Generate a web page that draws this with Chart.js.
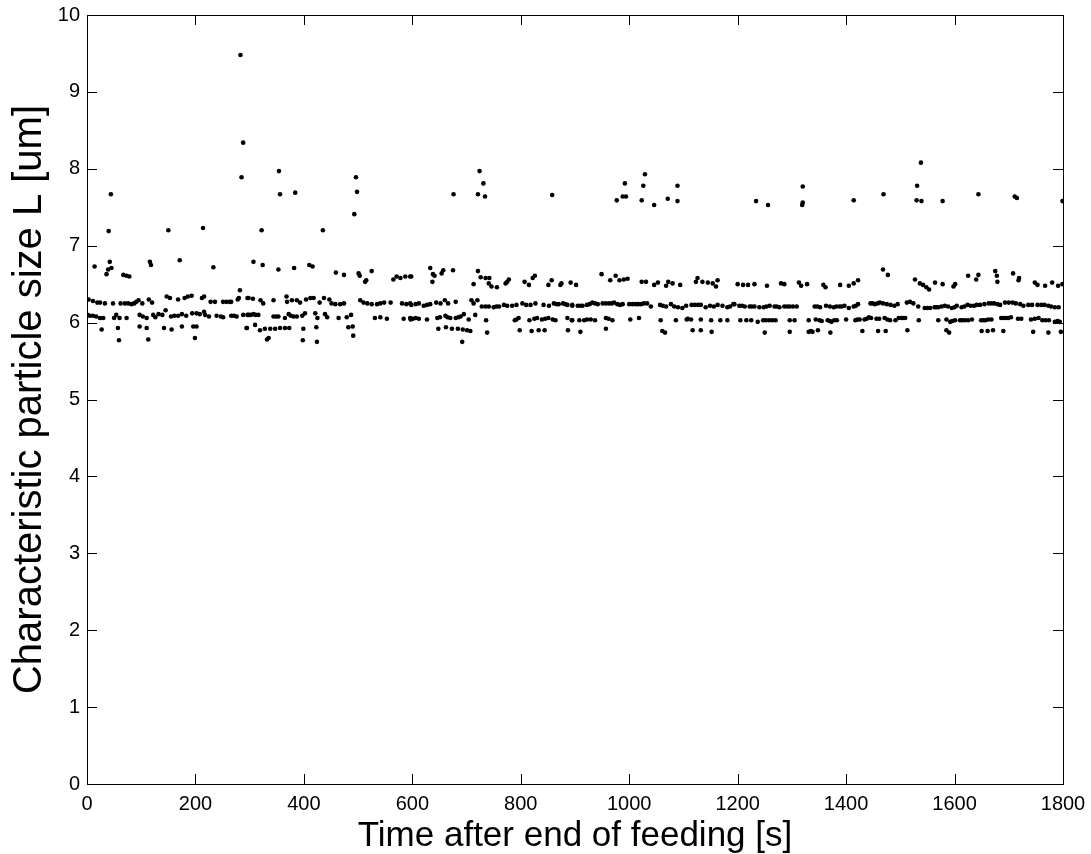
<!DOCTYPE html>
<html lang="en">
<head>
  <meta charset="UTF-8">
  <title>Characteristic particle size after feeding</title>
  <script src="https://cdn.jsdelivr.net/npm/chart.js"></script>
  <style>
    html, body { margin: 0; padding: 0; background: #fff; }
    #wrap { width: 1091px; height: 854px; }
  </style>
</head>
<body>
  <div id="wrap"><canvas id="sizeChart"></canvas></div>

  <script>
    // [time after end of feeding (s), characteristic particle size L (um)]
    const outliers = [
      [283,9.48],[288,8.34],[285,7.89],[44,7.67],[40,7.19],[150,7.20],[214,7.23],
      [354,7.97],[356,7.67],[384,7.69],[322,7.20],[435,7.20],[496,7.89],[498,7.70],[493,7.41],
      [724,7.97],[731,7.81],[676,7.67],[721,7.67],[734,7.64],[858,7.66],
      [1029,7.93],[992,7.81],[1026,7.78],[1089,7.78],[977,7.59],[988,7.64],[994,7.64],[1023,7.59],
      [1046,7.53],[1071,7.61],[1089,7.58],
      [1320,7.77],[1234,7.58],[1256,7.53],[1320,7.56],[1319,7.53],[1414,7.59],[1469,7.67],
      [1538,8.08],[1531,7.78],[1530,7.59],[1539,7.58],[1578,7.58],[1644,7.67],[1711,7.64],[1715,7.62],[1799,7.58]
    ];

    const middleBand = [
      [14,6.73],[42,6.79],[39,6.69],[45,6.71],[36,6.63],[67,6.62],[73,6.61],[78,6.60],[116,6.79],[118,6.75],
      [171,6.81],[233,6.72],[282,6.42],[296,6.32],
      [307,6.79],[324,6.75],[353,6.69],[382,6.71],[410,6.75],[416,6.73],[459,6.65],[474,6.62],[501,6.64],
      [503,6.61],[515,6.55],[513,6.53],[525,6.67],[565,6.56],[571,6.60],[578,6.58],[587,6.60],[596,6.60],
      [598,6.60],[633,6.71],[638,6.63],[637,6.53],[641,6.61],[654,6.64],[657,6.68],[675,6.68],[721,6.67],
      [713,6.50],[726,6.59],[735,6.58],[742,6.58],[746,6.47],[741,6.51],[756,6.46],[772,6.51],[778,6.56],
      [775,6.53],[807,6.53],[815,6.49],[822,6.58],[826,6.61],[851,6.49],[857,6.55],[873,6.49],[875,6.51],[892,6.52],
      [902,6.49],[949,6.63],[965,6.55],[975,6.61],[982,6.55],[990,6.56],[997,6.57],[1023,6.53],[1031,6.53],
      [1046,6.49],[1053,6.52],[1068,6.48],[1072,6.53],[1080,6.51],[1094,6.49],[1123,6.53],[1126,6.58],
      [1135,6.53],[1145,6.52],[1154,6.51],[1160,6.47],[1163,6.55],
      [1200,6.50],[1210,6.49],[1219,6.49],[1231,6.50],[1254,6.48],[1280,6.51],[1286,6.50],[1313,6.52],
      [1317,6.48],[1328,6.50],[1358,6.49],[1362,6.46],[1389,6.49],[1405,6.48],[1414,6.51],[1422,6.55],
      [1468,6.69],[1477,6.62],
      [1527,6.56],[1536,6.51],[1542,6.49],[1548,6.46],[1553,6.43],[1564,6.52],[1578,6.50],[1598,6.47],
      [1601,6.50],[1625,6.61],[1640,6.56],[1644,6.62],[1675,6.67],[1678,6.61],[1679,6.53],[1708,6.64],
      [1718,6.55],[1719,6.58],[1748,6.52],[1753,6.49],[1767,6.48],[1780,6.52],[1791,6.48],[1799,6.50]
    ];

    const upperBand = [
      [3,6.30],[11,6.28],[19,6.26],[24,6.26],[33,6.25],[48,6.25],[62,6.25],[70,6.25],[76,6.25],[82,6.24],
      [87,6.25],[91,6.27],[95,6.29],[102,6.25],[114,6.30],[120,6.26],[147,6.34],[153,6.32],[168,6.30],
      [180,6.32],[186,6.34],[193,6.35],[212,6.32],[216,6.34],[228,6.27],[236,6.27],[251,6.27],[257,6.27],
      [263,6.27],[266,6.27],[278,6.30],[280,6.32],
      [298,6.32],[306,6.31],[320,6.29],[325,6.25],[344,6.29],[368,6.34],[369,6.27],[378,6.29],[387,6.29],
      [393,6.26],[404,6.30],[412,6.32],[418,6.32],[429,6.26],[437,6.32],[447,6.30],[451,6.25],[458,6.24],
      [467,6.24],[474,6.25],[504,6.29],[510,6.26],[517,6.25],[525,6.24],[535,6.24],[541,6.25],[548,6.26],
      [560,6.26],[581,6.25],[589,6.24],[596,6.25],
      [598,6.23],[606,6.24],[612,6.25],[621,6.22],[627,6.23],[633,6.24],[644,6.26],[652,6.25],[660,6.29],
      [666,6.25],[680,6.27],[709,6.29],[713,6.25],[720,6.29],[728,6.21],[735,6.21],[741,6.21],[750,6.20],
      [755,6.21],[760,6.21],[769,6.23],[775,6.22],[784,6.22],[792,6.23],[803,6.25],[810,6.23],[818,6.23],
      [827,6.25],[842,6.23],[852,6.22],[861,6.25],[866,6.24],[870,6.24],[878,6.25],[882,6.24],[886,6.23],[895,6.22],
      [895,6.23],[905,6.22],[910,6.22],[914,6.22],[922,6.23],[927,6.24],[932,6.26],[937,6.25],[942,6.24],
      [951,6.25],[957,6.25],[963,6.25],[968,6.25],[972,6.26],[978,6.24],[983,6.23],[988,6.24],[1000,6.24],
      [1006,6.24],[1012,6.24],[1017,6.24],[1022,6.24],[1027,6.25],[1033,6.25],[1040,6.21],[1057,6.23],
      [1062,6.22],[1068,6.21],[1077,6.24],[1083,6.21],[1090,6.20],[1098,6.19],[1105,6.22],[1115,6.23],
      [1121,6.23],[1127,6.23],[1132,6.23],[1141,6.20],[1149,6.22],[1156,6.21],[1163,6.23],[1172,6.22],
      [1181,6.20],[1186,6.21],[1192,6.24],
      [1194,6.24],[1203,6.22],[1208,6.22],[1213,6.21],[1222,6.21],[1226,6.21],[1231,6.21],[1240,6.20],
      [1248,6.20],[1253,6.21],[1259,6.22],[1268,6.21],[1272,6.21],[1277,6.20],[1286,6.21],[1291,6.21],
      [1296,6.21],[1302,6.21],[1309,6.21],[1342,6.21],[1347,6.21],[1352,6.20],[1363,6.22],[1370,6.21],
      [1377,6.20],[1382,6.21],[1388,6.21],[1392,6.21],[1397,6.22],[1405,6.19],[1414,6.21],[1418,6.22],
      [1422,6.24],[1445,6.25],[1449,6.25],[1453,6.24],[1458,6.25],[1462,6.26],[1468,6.25],[1475,6.24],
      [1482,6.23],[1489,6.22],
      [1495,6.24],[1512,6.26],[1518,6.27],[1524,6.25],[1533,6.21],[1545,6.19],[1550,6.19],[1555,6.19],
      [1563,6.20],[1566,6.20],[1570,6.20],[1576,6.21],[1582,6.22],[1588,6.21],[1595,6.19],[1600,6.20],
      [1604,6.22],[1613,6.20],[1618,6.21],[1624,6.23],[1630,6.22],[1636,6.22],[1641,6.23],[1647,6.23],
      [1655,6.24],[1663,6.25],[1668,6.25],[1673,6.25],[1679,6.24],[1684,6.23],[1693,6.26],[1700,6.26],
      [1707,6.26],[1713,6.25],[1721,6.24],[1727,6.22],[1736,6.23],[1743,6.23],[1753,6.23],[1760,6.23],
      [1766,6.23],[1773,6.22],[1778,6.21],[1785,6.20],[1792,6.20]
    ];

    const lowerBand = [
      [1,6.10],[5,6.09],[11,6.09],[17,6.08],[24,6.06],[30,6.06],[50,6.06],[54,6.10],[60,6.06],[73,6.06],
      [97,6.10],[103,6.08],[110,6.06],[122,6.10],[126,6.07],[132,6.11],[139,6.10],[145,6.16],[155,6.08],
      [161,6.09],[168,6.09],[175,6.11],[183,6.09],[194,6.12],[202,6.12],[208,6.11],[216,6.14],[218,6.10],
      [225,6.08],[239,6.09],[247,6.08],[251,6.07],[266,6.09],[271,6.09],[276,6.08],[288,6.10],[296,6.10],
      [298,6.10],[302,6.10],[307,6.11],[311,6.10],[316,6.10],[344,6.08],[349,6.08],[353,6.08],[365,6.06],
      [372,6.11],[376,6.09],[381,6.08],[387,6.08],[397,6.09],[402,6.12],[421,6.12],[425,6.06],[439,6.11],
      [443,6.07],[464,6.06],[479,6.07],[487,6.10],[531,6.06],[541,6.07],[553,6.05],[584,6.05],[596,6.06],
      [597,6.04],[601,6.05],[606,6.06],[612,6.05],[627,6.04],[646,6.06],[651,6.07],[661,6.09],[665,6.07],
      [670,6.06],[680,6.06],[685,6.07],[689,6.08],[695,6.11],[704,6.04],[716,6.10],[736,6.03],[789,6.03],
      [792,6.04],[796,6.06],[816,6.03],[825,6.05],[830,6.06],[839,6.04],[845,6.05],[851,6.06],[859,6.04],
      [864,6.03],[886,6.06],[894,6.03],
      [895,6.03],[908,6.03],[917,6.03],[922,6.04],[929,6.04],[937,6.03],[957,6.06],[962,6.05],[969,6.03],
      [1002,6.04],[1018,6.06],[1058,6.03],[1086,6.03],[1106,6.04],[1108,6.05],[1114,6.04],[1132,6.04],
      [1151,6.03],[1168,6.03],[1181,6.03],
      [1205,6.03],[1216,6.03],[1225,6.03],[1237,6.01],[1247,6.03],[1252,6.03],[1258,6.03],[1264,6.03],
      [1270,6.03],[1296,6.03],[1305,6.03],[1331,6.03],[1344,6.04],[1351,6.03],[1355,6.02],[1366,6.03],
      [1370,6.02],[1373,6.01],[1378,6.03],[1383,6.03],[1400,6.04],[1417,6.03],[1421,6.04],[1425,6.04],
      [1434,6.04],[1438,6.05],[1442,6.07],[1446,6.06],[1456,6.05],[1461,6.05],[1471,6.06],[1476,6.04],
      [1481,6.03],[1491,6.03],
      [1497,6.06],[1502,6.06],[1505,6.06],[1509,6.06],[1534,6.03],[1570,6.03],[1585,6.04],[1592,6.01],
      [1596,6.02],[1601,6.03],[1610,6.03],[1614,6.03],[1619,6.03],[1625,6.03],[1632,6.04],[1649,6.03],
      [1653,6.03],[1657,6.03],[1662,6.04],[1668,6.04],[1686,6.06],[1690,6.06],[1694,6.06],[1699,6.06],
      [1704,6.07],[1717,6.05],[1723,6.05],[1741,6.04],[1748,6.05],[1755,6.06],[1762,6.03],[1768,6.03],
      [1774,6.03],[1785,6.01],[1790,6.02],[1794,6.01]
    ];

    const lowestBand = [
      [27,5.91],[57,5.93],[59,5.77],[97,5.95],[110,5.93],[113,5.78],[142,5.93],[156,5.91],[175,5.95],
      [196,5.95],[202,5.95],[199,5.80],[294,5.93],
      [295,5.93],[310,5.97],[319,5.90],[328,5.92],[338,5.92],[347,5.92],[356,5.93],[365,5.93],[373,5.93],
      [399,5.92],[423,5.94],[482,5.94],[490,5.95],[332,5.78],[335,5.80],[398,5.77],[424,5.75],[491,5.83],
      [648,5.92],[662,5.94],[673,5.92],[684,5.92],[693,5.91],[701,5.90],[707,5.89],[692,5.75],[738,5.87],
      [798,5.90],[820,5.89],[833,5.90],[844,5.90],[887,5.90],
      [910,5.88],[957,5.92],[1061,5.89],[1066,5.87],[1117,5.90],[1132,5.90],[1152,5.88],
      [1250,5.87],[1296,5.88],[1331,5.88],[1335,5.89],[1338,5.88],[1348,5.90],[1371,5.87],[1430,5.89],
      [1459,5.89],[1473,5.89],
      [1513,5.90],[1585,5.90],[1590,5.87],[1650,5.89],[1661,5.89],[1671,5.90],[1690,5.89],[1745,5.88],
      [1773,5.87],[1796,5.88]
    ];

    const xTickValues = [0, 200, 400, 600, 800, 1000, 1200, 1400, 1600, 1800];
    const yTickValues = [0, 1, 2, 3, 4, 5, 6, 7, 8, 9, 10];

    const allPoints = [...outliers, ...middleBand, ...upperBand, ...lowerBand, ...lowestBand]
      .map(p => ({ x: p[0], y: p[1] }));

    // MATLAB style frame: box on four sides, ticks pointing inwards
    const matlabBox = {
      id: 'matlabBox',
      afterDraw(chart) {
        const { ctx, chartArea: a, scales: { x, y } } = chart;
        const len = 10;
        ctx.save();
        ctx.strokeStyle = '#000';
        ctx.lineWidth = 1;
        ctx.beginPath();
        xTickValues.forEach(v => {
          const px = Math.round(x.getPixelForValue(v)) + 0.5;
          ctx.moveTo(px, a.bottom); ctx.lineTo(px, a.bottom - len);
          ctx.moveTo(px, a.top); ctx.lineTo(px, a.top + len);
        });
        yTickValues.forEach(v => {
          const py = Math.round(y.getPixelForValue(v)) + 0.5;
          ctx.moveTo(a.left, py); ctx.lineTo(a.left + len, py);
          ctx.moveTo(a.right, py); ctx.lineTo(a.right - len, py);
        });
        ctx.stroke();
        ctx.strokeRect(Math.round(a.left) + 0.5, Math.round(a.top) + 0.5,
          Math.round(a.right - a.left), Math.round(a.bottom - a.top));
        ctx.restore();
      }
    };

    const font = 'Liberation Sans, Arial, Helvetica, sans-serif';

    new Chart(document.getElementById('sizeChart'), {
      type: 'scatter',
      data: {
        datasets: [{
          data: allPoints,
          backgroundColor: '#000',
          borderWidth: 0,
          pointRadius: 2.3,
          pointHoverRadius: 2.3
        }]
      },
      options: {
        responsive: true,
        maintainAspectRatio: false,
        animation: false,
        layout: { padding: { top: 15, right: 28, left: 0, bottom: 0 } },
        plugins: { legend: { display: false }, tooltip: { enabled: false } },
        scales: {
          x: {
            type: 'linear',
            min: 0, max: 1800,
            afterBuildTicks: s => { s.ticks = xTickValues.map(v => ({ value: v })); },
            afterFit: s => { s.height = 70; s.paddingLeft = 0; s.paddingRight = 0; },
            grid: { display: false, drawTicks: false },
            border: { display: false },
            ticks: {
              color: '#000', padding: 8, maxRotation: 0,
              font: { family: font, size: 20 },
              callback: v => String(v)
            },
            title: {
              display: true,
              text: 'Time after end of feeding [s]',
              color: '#000',
              padding: { top: 0, bottom: 0 },
              font: { family: font, size: 35, lineHeight: 1 }
            }
          },
          y: {
            type: 'linear',
            min: 0, max: 10,
            afterBuildTicks: s => { s.ticks = yTickValues.map(v => ({ value: v })); },
            afterFit: s => { s.width = 87; s.paddingTop = 0; s.paddingBottom = 0; },
            grid: { display: false, drawTicks: false },
            border: { display: false },
            ticks: { color: '#000', padding: 7, font: { family: font, size: 20 }, callback: v => String(v) },
            title: {
              display: true,
              text: 'Characteristic particle size L [um]',
              color: '#000',
              padding: { top: 10, bottom: 0 },
              font: { family: font, size: 40, lineHeight: 1 }
            }
          }
        }
      },
      plugins: [matlabBox]
    });
  </script>
</body>
</html>
